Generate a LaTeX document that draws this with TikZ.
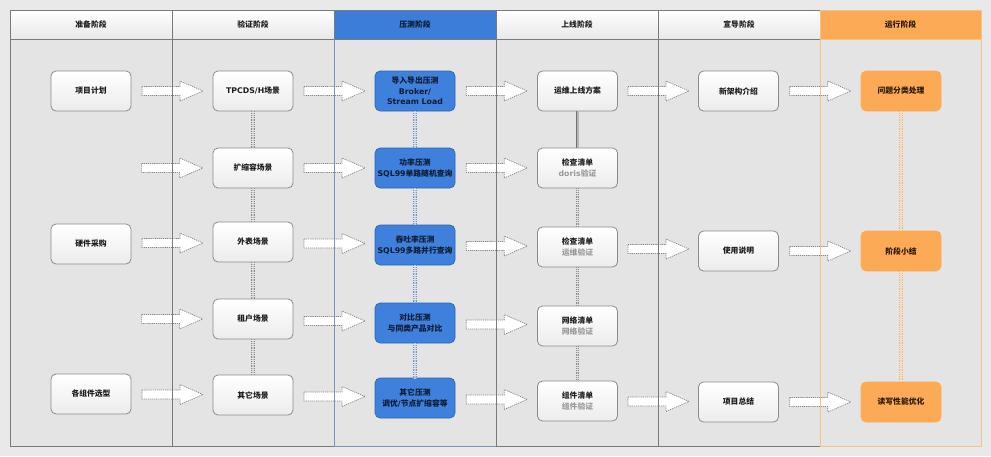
\documentclass[tikz,border=0pt]{standalone}
\usepackage{fontspec}
\setmainfont{Noto Sans CJK SC}
\newfontfamily\lat{DejaVu Sans}
\usetikzlibrary{calc}
\definecolor{pagebg}{HTML}{E9E9E9}
\definecolor{colbg}{HTML}{E4E4E4}
\definecolor{gridc}{HTML}{7A7A7A}
\definecolor{hblue}{HTML}{3C7DD9}
\definecolor{nblue}{HTML}{3E80DC}
\definecolor{nblueb}{HTML}{2D63B0}
\definecolor{bluetext}{HTML}{0E1B33}
\definecolor{horange}{HTML}{FDAA56}
\definecolor{norange}{HTML}{FDAA56}
\definecolor{otext}{HTML}{2A1A05}
\definecolor{oline}{HTML}{F4C487}
\definecolor{bline}{HTML}{7C96BB}
\definecolor{subgray}{HTML}{9A9A9A}
\definecolor{txt}{HTML}{1E1E1E}
\definecolor{wborder}{HTML}{8C8C8C}
\definecolor{hbot}{HTML}{E8E8E8}
\definecolor{nbot}{HTML}{ECECEC}
\definecolor{arrb}{HTML}{858585}
\definecolor{gconn}{HTML}{8E8E8E}
\definecolor{gconnin}{HTML}{C8C8C8}
\definecolor{bconn}{HTML}{7393C8}
\definecolor{bconnin}{HTML}{BCCCE8}
\definecolor{oconn}{HTML}{F0B870}
\definecolor{oconnin}{HTML}{F8DAB0}
\definecolor{sconn}{HTML}{727272}
\definecolor{sconnin}{HTML}{B4B4B4}

\newcommand{\blk}[1]{\draw[blockarrow] ($(#1)+(-30,-4.5)$) -- ($(#1)+(8,-4.5)$) -- ($(#1)+(8,-10)$) -- ($(#1)+(31,0)$) -- ($(#1)+(8,10)$) -- ($(#1)+(8,4.5)$) -- ($(#1)+(-30,4.5)$) -- cycle;}

\begin{document}
\begin{tikzpicture}[x=1pt,y=-1pt,
  font=\fontsize{7.8}{10.5}\selectfont\bfseries,
  hdr/.style={rectangle, draw=gridc, line width=0.7pt, minimum width=162pt, minimum height=29pt, inner sep=0pt, top color=white, bottom color=hbot, text=txt},
  wbox/.style={rectangle, rounded corners=5pt, draw=wborder, line width=0.8pt, top color=white, bottom color=nbot, minimum width=80pt, minimum height=40pt, inner sep=1pt, align=center, text=txt},
  bbox/.style={rectangle, rounded corners=5pt, draw=nblueb, line width=0.6pt, fill=nblue, minimum width=80pt, minimum height=40pt, inner sep=1pt, align=center, text=bluetext},
  obox/.style={rectangle, rounded corners=5pt, draw=norange, line width=0.6pt, fill=norange, minimum width=80pt, minimum height=40pt, inner sep=1pt, align=center, text=otext},
  blockarrow/.style={fill=white, draw=arrb, line width=0.7pt, dash pattern=on 1.2pt off 0.9pt},
  gdot/.style={draw=gconn, double=gconnin, line width=0.9pt, double distance=1.8pt, dash pattern=on 1pt off 0.8pt},
  bdot/.style={draw=bconn, double=bconnin, line width=0.9pt, double distance=1.8pt, dash pattern=on 1pt off 0.8pt},
  odot/.style={draw=oconn, double=oconnin, line width=0.9pt, double distance=1.8pt, dash pattern=on 1pt off 0.8pt},
  gsolid/.style={draw=sconn, double=sconnin, line width=0.9pt, double distance=2pt},
  gridl/.style={draw=gridc, line width=0.8pt},
]
\useasboundingbox (0,0) rectangle (991,456);
\fill[pagebg] (0,0) rectangle (991,456);
\fill[colbg] (10,39) rectangle (981,446);

% headers
\node[hdr] (h1) at (91,24.5) {准备阶段};
\node[hdr] (h2) at (253,24.5) {验证阶段};
\node[hdr, fill=hblue, top color=hblue, bottom color=hblue, text=bluetext] (h3) at (415,24.5) {压测阶段};
\node[hdr] (h4) at (577,24.5) {上线阶段};
\node[hdr] (h5) at (739,24.5) {宣导阶段};
\node[hdr, minimum width=161pt, draw=oline, top color=horange, bottom color=horange, text=otext] (h6) at (900.5,24.5) {运行阶段};

% column 1
\node[wbox] (n11) at (91,91) {项目计划};
\node[wbox] (n13) at (91,244) {硬件采购};
\node[wbox] (n15) at (91,394) {各组件选型};
% column 2
\node[wbox] (n21) at (253,91) {{\lat TPCDS/H}场景};
\node[wbox] (n22) at (253,168) {扩缩容场景};
\node[wbox] (n23) at (253,242) {外表场景};
\node[wbox] (n24) at (253,319) {租户场景};
\node[wbox] (n25) at (253,395) {其它场景};
% column 3
\node[bbox] (n31) at (415,91) {导入导出压测\\{\lat Broker/}\\{\lat Stream Load}};
\node[bbox] (n32) at (415,168) {功率压测\\{\lat SQL99}单路随机查询};
\node[bbox] (n33) at (415,245) {吞吐率压测\\{\lat SQL99}多路并行查询};
\node[bbox] (n34) at (415,323) {对比压测\\与同类产品对比};
\node[bbox] (n35) at (415,398) {其它压测\\调优{\lat /}节点扩缩容等};
% column 4
\node[wbox] (n41) at (577.5,91) {运维上线方案};
\node[wbox] (n42) at (577.5,168) {检查清单\\\textcolor{subgray}{{\lat doris}验证}};
\node[wbox] (n43) at (577.5,247) {检查清单\\\textcolor{subgray}{运维验证}};
\node[wbox] (n44) at (577.5,326) {网络清单\\\textcolor{subgray}{网络验证}};
\node[wbox] (n45) at (577.5,401) {组件清单\\\textcolor{subgray}{组件验证}};
% column 5
\node[wbox] (n51) at (738.5,91) {新架构介绍};
\node[wbox] (n53) at (738.5,251) {使用说明};
\node[wbox] (n55) at (738.5,402) {项目总结};
% column 6
\node[obox] (n61) at (901,91) {问题分类处理};
\node[obox] (n63) at (901,251) {阶段小结};
\node[obox] (n65) at (901,402) {读写性能优化};

% block arrow centres
\coordinate (a11) at ($(n11.east)!0.5!(n21.west)$);
\coordinate (a12) at ($(n22.west)+(-41,0)$);
\coordinate (a13) at ($(n13.east)!0.5!(n23.west)$);
\coordinate (a14) at ($(n24.west)+(-41,0)$);
\coordinate (a15) at ($(n15.east)!0.5!(n25.west)$);
\coordinate (a21) at ($(n21.east)!0.5!(n31.west)$);
\coordinate (a22) at ($(n22.east)!0.5!(n32.west)$);
\coordinate (a23) at ($(n23.east)!0.5!(n33.west)$);
\coordinate (a24) at ($(n24.east)!0.5!(n34.west)$);
\coordinate (a25) at ($(n25.east)!0.5!(n35.west)$);
\coordinate (a31) at ($(n31.east)!0.5!(n41.west)$);
\coordinate (a32) at ($(n32.east)!0.5!(n42.west)$);
\coordinate (a33) at ($(n33.east)!0.5!(n43.west)$);
\coordinate (a34) at ($(n34.east)!0.5!(n44.west)$);
\coordinate (a35) at ($(n35.east)!0.5!(n45.west)$);
\coordinate (a41) at ($(n41.east)!0.5!(n51.west)$);
\coordinate (a43) at ($(n43.east)!0.5!(n53.west)$);
\coordinate (a45) at ($(n45.east)!0.5!(n55.west)$);
\coordinate (a51) at ($(n51.east)!0.5!(n61.west)$);
\coordinate (a53) at ($(n53.east)!0.5!(n63.west)$);
\coordinate (a55) at ($(n55.east)!0.5!(n65.west)$);
\foreach \c in {a11,a12,a13,a14,a15,a21,a22,a23,a24,a25,a31,a32,a33,a34,a35,a41,a43,a45,a51,a53,a55}{\blk{\c}}

% vertical connectors
\draw[gdot] (n21.south) -- (n22.north);
\draw[gdot] (n22.south) -- (n23.north);
\draw[gdot] (n23.south) -- (n24.north);
\draw[gdot] (n24.south) -- (n25.north);
\draw[bdot] (n31.south) -- (n32.north);
\draw[bdot] (n32.south) -- (n33.north);
\draw[bdot] (n33.south) -- (n34.north);
\draw[bdot] (n34.south) -- (n35.north);
\draw[gsolid] (n41.south) -- (n42.north);
\draw[gdot] (n42.south) -- (n43.north);
\draw[gdot] (n43.south) -- (n44.north);
\draw[gdot] (n44.south) -- (n45.north);
\draw[odot] (n61.south) -- (n63.north);
\draw[odot] (n63.south) -- (n65.north);

% grid lines
\draw[gridl] (10,10) -- (10,446) -- (334,446);
\draw[gridl] (496,446) -- (820,446);
\draw[gridl] (10,10) -- (820,10);
\draw[gridl] (10,39) -- (820,39);
\foreach \xx in {172,496,658}{\draw[gridl] (\xx,10) -- (\xx,446);}
\draw[gridl] (334,10) -- (334,39);
\draw[draw=bline, line width=0.8pt] (334,39) -- (334,446) -- (496,446);
\draw[draw=oline, line width=0.9pt] (820,10) rectangle (981,446);
\end{tikzpicture}
\end{document}
